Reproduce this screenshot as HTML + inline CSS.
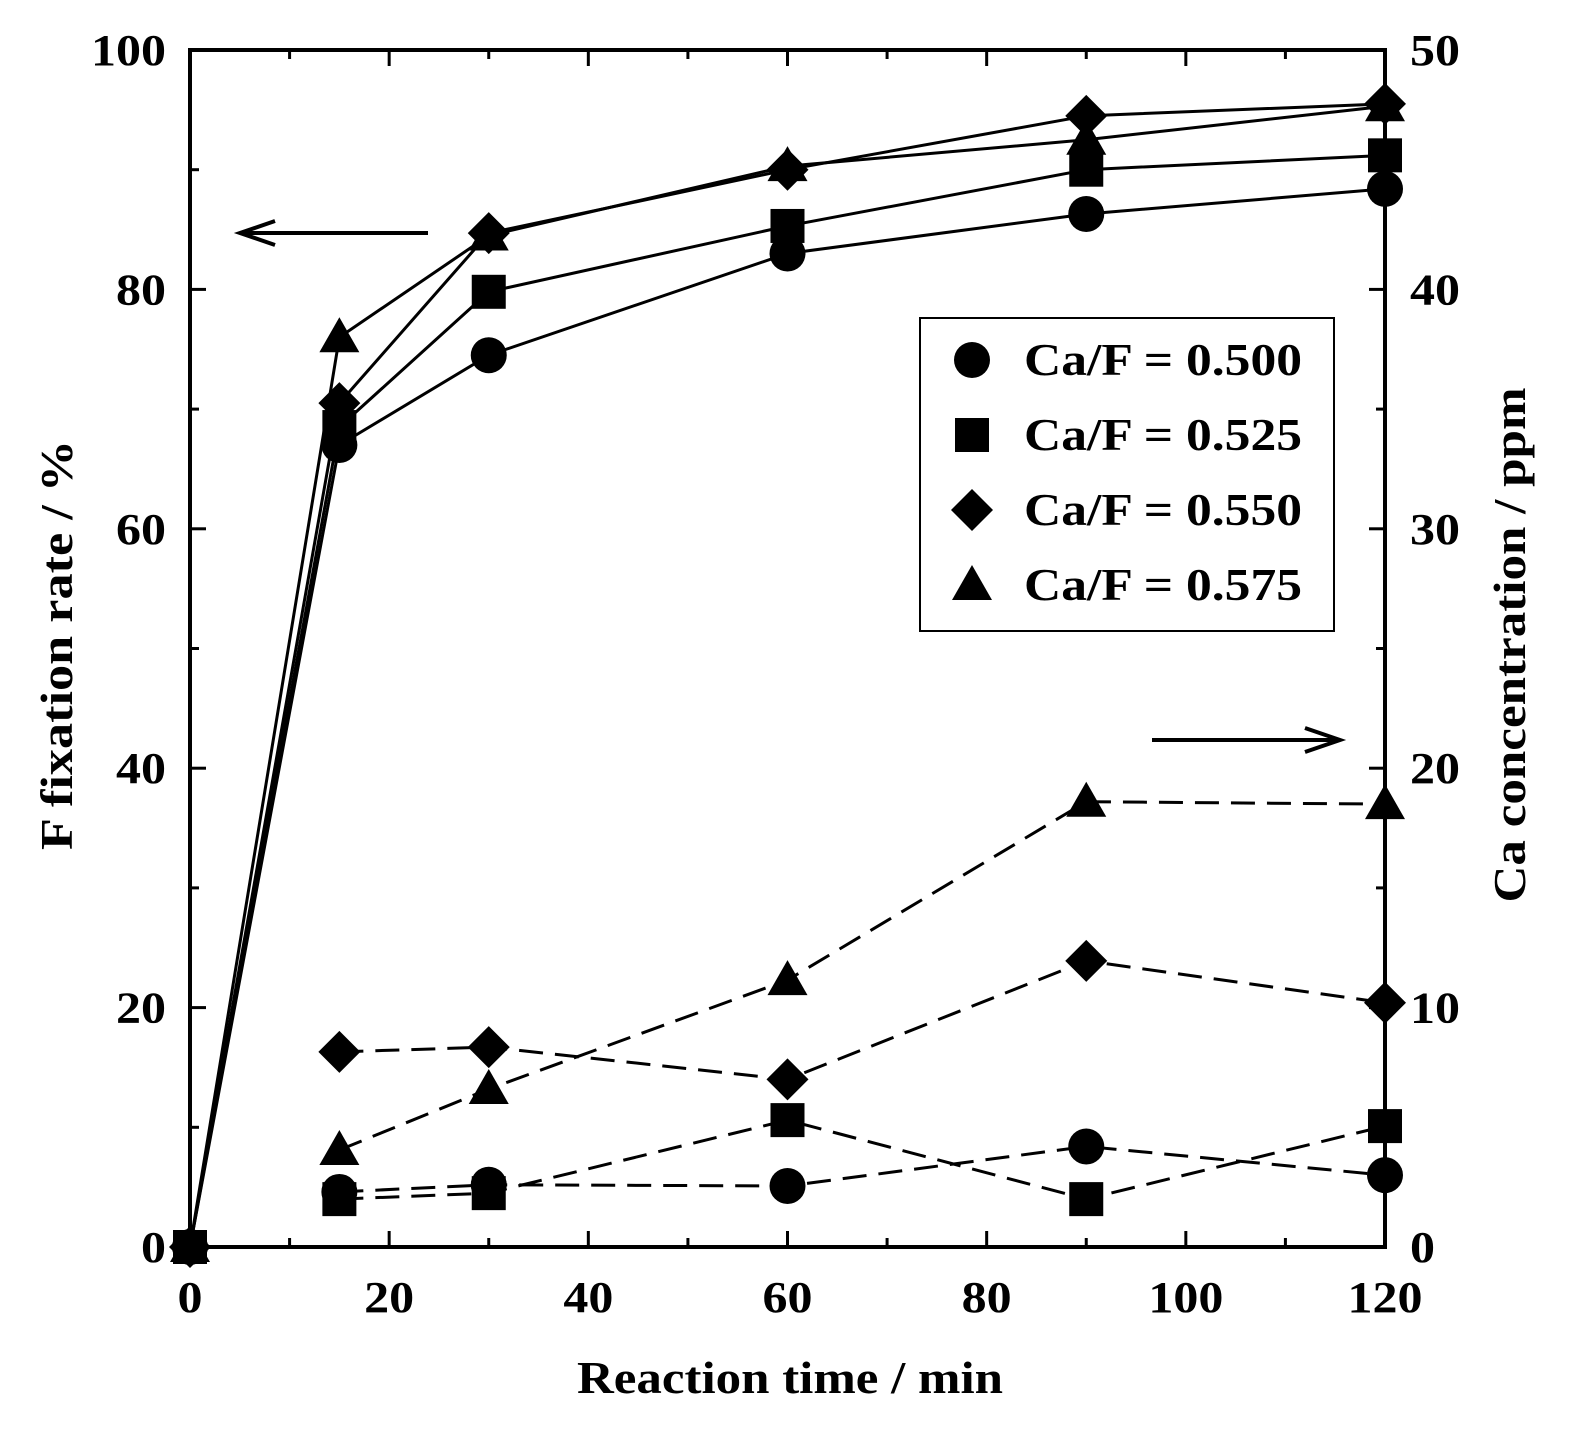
<!DOCTYPE html>
<html><head><meta charset="utf-8"><style>
body{margin:0;background:#fff}
svg text{font-family:"Liberation Serif",serif;font-weight:bold;fill:#000}
</style></head><body>
<svg id="c" width="1577" height="1430" xmlns="http://www.w3.org/2000/svg"></svg>
<script>
const times=[0,15,30,60,90,120];
const ctimes=[15,30,60,90,120];
const fCircle=[0,67,74.5,83,86.3,88.4];
const fSquare=[0,68.5,79.8,85.3,90,91.2];
const fDiamond=[0,70.5,84.7,90,94.5,95.5];
const fTriangle=[0,76,84.5,90.3,92.5,95.3];
const caCircle=[2.3,2.6,2.55,4.2,3.0];
const caSquare=[2.0,2.25,5.3,2.0,5.05];
const caDiamond=[8.15,8.35,7.0,11.95,10.2];
const caTriangle=[4.05,6.6,11.15,18.6,18.5];
const xTicks=[0,20,40,60,80,100,120];
const yTicks=[0,20,40,60,80,100];
const y2Ticks=[0,10,20,30,40,50];
const seriesNames=["Ca/F = 0.500","Ca/F = 0.525","Ca/F = 0.550","Ca/F = 0.575"];

const L=190,R=1385,T=50,B=1247;
const X=v=>L+(R-L)*v/120, Y=v=>B-(B-T)*v/100, Y2=v=>B-(B-T)*v/50;
const svg=document.getElementById('c');const NS='http://www.w3.org/2000/svg';
function el(t,a,p){const e=document.createElementNS(NS,t);for(const k in a)e.setAttribute(k,a[k]);(p||svg).appendChild(e);return e;}
function txt(x,y,s,a,len){const e=el('text',Object.assign({x:x,y:y,'font-size':44},a||{}));e.textContent=s;if(len){e.setAttribute('textLength',len);e.setAttribute('lengthAdjust','spacingAndGlyphs');}return e;}
function marker(shape,x,y,name,g){let e;
 if(shape==0)e=el('circle',{cx:x,cy:y,r:18},g);
 else if(shape==1)e=el('rect',{x:x-17,y:y-17,width:34,height:34},g);
 else if(shape==2)e=el('polygon',{points:`${x},${y-21} ${x+21},${y} ${x},${y+21} ${x-21},${y}`},g);
 else e=el('polygon',{points:`${x},${y-20} ${x+20},${y+15} ${x-20},${y+15}`},g);
 e.setAttribute('fill','#000');
 
 return e;}
const fr=el('rect',{x:L,y:T,width:R-L,height:B-T,fill:'none',stroke:'#000','stroke-width':4});


for(let v=0;v<=120;v+=10){const m=v%20==0?16:9;el('line',{x1:X(v),x2:X(v),y1:B,y2:B-m,stroke:'#000','stroke-width':3});el('line',{x1:X(v),x2:X(v),y1:T,y2:T+m,stroke:'#000','stroke-width':3});}
for(let v=0;v<=100;v+=10){const m=v%20==0?16:9;el('line',{x1:L,x2:L+m,y1:Y(v),y2:Y(v),stroke:'#000','stroke-width':3});el('line',{x1:R,x2:R-m,y1:Y(v),y2:Y(v),stroke:'#000','stroke-width':3});}
xTicks.forEach(v=>{const s=String(v);const t=txt(X(v),1312,s,{'text-anchor':'middle'},s.length*25);});
yTicks.forEach(v=>{const s=String(v);const t=txt(166-s.length*25,Y(v)+15,s,{},s.length*25);});
y2Ticks.forEach(v=>{const s=String(v);const t=txt(1410,Y2(v)+15,s,{},s.length*25);});
let t=txt(790,1393,'Reaction time / min',{'text-anchor':'middle','font-size':46},426);
t=txt(0,0,'F fixation rate / %',{'text-anchor':'middle','font-size':46,transform:`translate(72,645) rotate(-90)`},410);
t=txt(0,0,'Ca concentration / ppm',{'text-anchor':'middle','font-size':46,transform:`translate(1525,645) rotate(-90)`},515);
el('line',{x1:428,y1:233,x2:245,y2:233,stroke:'#000','stroke-width':4});
el('polyline',{points:'275,221 240,233 275,245',fill:'none',stroke:'#000','stroke-width':4});
el('line',{x1:1152,y1:740,x2:1335,y2:740,stroke:'#000','stroke-width':4});
el('polyline',{points:'1305,728 1340,740 1305,752',fill:'none',stroke:'#000','stroke-width':4});
const fs=[fCircle,fSquare,fDiamond,fTriangle], cs=[caCircle,caSquare,caDiamond,caTriangle];
fs.forEach((d,i)=>{const g=el('g',{});
 el('polyline',{points:times.map((tt,j)=>X(tt)+','+Y(d[j])).join(' '),fill:'none',stroke:'#000','stroke-width':3},g);
 times.forEach((tt,j)=>marker(i,X(tt),Y(d[j]),'f-point',g));});
cs.forEach((d,i)=>{const g=el('g',{});
 el('polyline',{points:ctimes.map((tt,j)=>X(tt)+','+Y2(d[j])).join(' '),fill:'none',stroke:'#000','stroke-width':3,'stroke-dasharray':'24,12'},g);
 ctimes.forEach((tt,j)=>marker(i,X(tt),Y2(d[j]),'ca-point',g));});
const lg=el('g',{});
el('rect',{x:920,y:318,width:414,height:313,fill:'#fff',stroke:'#000','stroke-width':2},lg);
seriesNames.forEach((s,i)=>{const y=360+i*75;marker(i,972,y,'legend-marker',lg);
 const e=txt(1024,y+15,s,{'font-size':46},278);lg.appendChild(e);});
</script>
</body></html>
